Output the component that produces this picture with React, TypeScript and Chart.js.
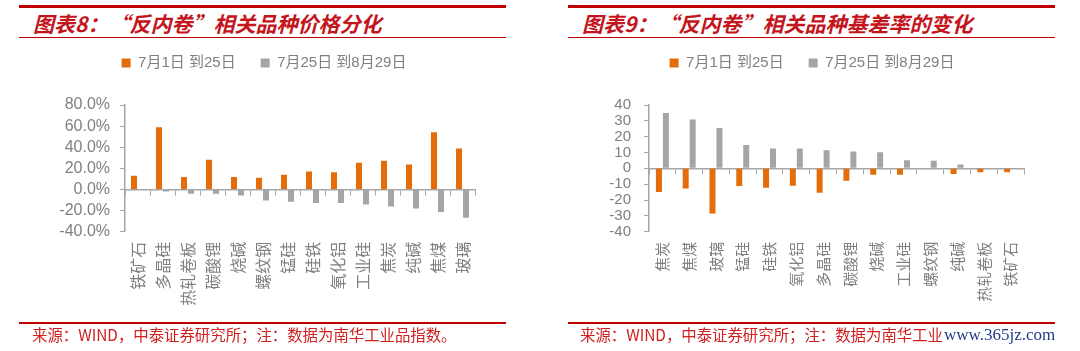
import React, { useEffect, useRef } from 'react';
import { Chart, registerables } from 'chart.js';

Chart.register(...registerables);

// ---------- data ----------
const priceCategories = ['铁矿石', '多晶硅', '热轧卷板', '碳酸锂', '烧碱', '螺纹钢', '锰硅', '硅铁', '氧化铝', '工业硅', '焦炭', '纯碱', '焦煤', '玻璃'];
const priceJul = [13, 59, 11.7, 28.1, 11.7, 11.1, 13.9, 17.1, 16.4, 25.3, 27.2, 23.7, 54.3, 38.9];
const priceAug = [0, -2, -4.1, -4.1, -5.7, -10.4, -11.7, -12.9, -12.9, -14.2, -16.1, -18, -21.4, -26.8];
const priceTicks = { min: -40, max: 80, step: 20 };

const basisCategories = ['焦炭', '焦煤', '玻璃', '锰硅', '硅铁', '氧化铝', '多晶硅', '碳酸锂', '烧碱', '工业硅', '螺纹钢', '纯碱', '热轧卷板', '铁矿石'];
const basisJul = [-15, -12.7, -28.5, -11.2, -12.3, -11, -15.4, -7.8, -4, -4, 0, -3.6, -2.4, -2.5];
const basisAug = [35, 30.9, 25.5, 14.7, 12.6, 12.6, 11.4, 10.7, 10.1, 5.1, 4.8, 2.5, 0, 0];
const basisTicks = { min: -40, max: 40, step: 10 };

const legendLabels = ['7月1日 到25日', '7月25日 到8月29日'];
const titles = ['图表8：“反内卷”相关品种价格分化', '图表9：“反内卷”相关品种基差率的变化'];
const sourceText = '来源：WIND，中泰证券研究所；注：数据为南华工业品指数。';
const watermark = 'www.365jz.com';

// ---------- style ----------
const ORANGE = '#E46C0A';
const GRAY = '#A5A5A5';
const AXIS = '#A6A6A6';
const TICK_COLOR = '#808080';
const RED = '#C00000';
const FONT = '"Liberation Sans", "Noto Sans CJK SC", sans-serif';
const CJK = '"Noto Sans CJK SC", "Liberation Sans", sans-serif';

type ChartProps = {
  categories: string[];
  s1: number[];
  s2: number[];
  ticks: { min: number; max: number; step: number };
  percent: boolean;
  padLeft: number;
  padRight: number;
  yWidth: number;
  yPad: number;
  yFont: number;
  xFont: number;
  catPct: number;
  barPct: number;
};

function BarChart(p: ChartProps) {
  const ref = useRef<HTMLCanvasElement>(null);
  useEffect(() => {
    if (!ref.current) return;
    const chart = new Chart(ref.current, {
      type: 'bar',
      data: {
        labels: p.categories,
        datasets: [
          { label: legendLabels[0], data: p.s1, backgroundColor: ORANGE, categoryPercentage: p.catPct, barPercentage: p.barPct },
          { label: legendLabels[1], data: p.s2, backgroundColor: GRAY, categoryPercentage: p.catPct, barPercentage: p.barPct },
        ],
      },
      options: {
        responsive: false,
        animation: false,
        devicePixelRatio: 1,
        layout: { padding: { top: 30.5, left: p.padLeft, right: p.padRight, bottom: 30 } },
        plugins: {
          legend: {
            display: true,
            position: 'top',
            labels: {
              boxWidth: 9,
              boxHeight: 9,
              padding: 25,
              color: TICK_COLOR,
              font: { size: 15, family: FONT },
            },
          },
          title: {
            display: true,
            text: '',
            weight: 500,
            padding: { top: 24.5, bottom: 0 },
            font: { size: 1, lineHeight: '0px' },
          } as any,
          tooltip: { enabled: false },
        },
        scales: {
          x: {
            type: 'category',
            position: 'bottom',
            offset: true,
            grid: { display: false, drawTicks: false },
            border: { display: false },
            ticks: {
              autoSkip: false,
              minRotation: 90,
              maxRotation: 90,
              padding: 10,
              color: TICK_COLOR,
              font: { size: p.xFont, family: CJK },
            },
            afterFit: (s: any) => {
              s.height = 351 - 30 - 231.7;
            },
          },
          x2: {
            type: 'category',
            axis: 'x',
            position: { y: 0 },
            offset: true,
            grid: { display: true, drawOnChartArea: false, drawTicks: true, tickLength: 5, offset: true, color: AXIS, lineWidth: 1 },
            border: { display: true, color: AXIS, width: 1.5 },
            ticks: { display: false },
          } as any,
          y: {
            min: p.ticks.min,
            max: p.ticks.max,
            grid: { display: true, drawOnChartArea: false, drawTicks: true, tickLength: 5, color: AXIS, lineWidth: 1 },
            border: { display: true, color: AXIS, width: 1.5 },
            ticks: {
              stepSize: p.ticks.step,
              autoSkip: false,
              padding: p.yPad,
              color: TICK_COLOR,
              font: { size: p.yFont, family: FONT, lineHeight: 1 },
              callback: (v: any) => (p.percent ? Number(v).toFixed(1) + '%' : String(v)),
            },
            afterFit: (s: any) => {
              s.width = p.yWidth;
            },
          },
        },
      } as any,
    });
    return () => chart.destroy();
  }, []);
  return (
    <canvas
      ref={ref}
      width={540}
      height={351}
      style={{ position: 'absolute', left: 0, top: 0, width: 540, height: 351 }}
    />
  );
}

type PanelProps = {
  left: number;
  lineX1: number;
  lineX2: number;
  titleX: number;
  title: string;
  footX: number;
  children: React.ReactNode;
  extra?: React.ReactNode;
};

function Panel(p: PanelProps) {
  const lineW = p.lineX2 - p.lineX1;
  return (
    <div style={{ position: 'absolute', left: p.left, top: 0, width: 540, height: 351, overflow: 'visible' }}>
      <div style={{ position: 'absolute', left: p.lineX1, top: 5, width: lineW, height: 3, background: RED }} />
      <div
        style={{
          position: 'absolute',
          left: p.titleX,
          top: 10,
          height: 26,
          lineHeight: '26px',
          fontFamily: CJK,
          fontSize: 21,
          fontWeight: 700,
          fontStyle: 'italic',
          color: '#C4141C',
          whiteSpace: 'nowrap',
        }}
      >
        {p.title}
      </div>
      <div style={{ position: 'absolute', left: p.lineX1, top: 36.5, width: lineW, height: 1.5, background: RED }} />
      {p.children}
      <div style={{ position: 'absolute', left: p.lineX1, top: 322, width: lineW, height: 2, background: RED }} />
      <div
        style={{
          position: 'absolute',
          left: p.footX,
          top: 325,
          height: 18,
          lineHeight: '18px',
          fontFamily: CJK,
          fontSize: 15.4,
          color: '#D02020',
          whiteSpace: 'nowrap',
        }}
      >
        {sourceText}
      </div>
      {p.extra}
    </div>
  );
}

export default function App() {
  return (
    <div style={{ position: 'absolute', left: 0, top: 0, width: 1080, height: 351, background: '#FFFFFF', overflow: 'hidden' }}>
      <Panel left={0} lineX1={19} lineX2={506} titleX={33} title={titles[0]} footX={32}>
        <BarChart
          categories={priceCategories}
          s1={priceJul}
          s2={priceAug}
          ticks={priceTicks}
          percent={true}
          padLeft={53}
          padRight={65}
          yWidth={72}
          yPad={10}
          yFont={16}
          xFont={16}
          catPct={0.56}
          barPct={0.86}
        />
      </Panel>
      <Panel
        left={540}
        lineX1={28}
        lineX2={515}
        titleX={42}
        title={titles[1]}
        footX={40}
        extra={
          <div
            style={{
              position: 'absolute',
              left: 402,
              top: 326,
              height: 18,
              lineHeight: '18px',
              padding: '0 2px',
              background: '#FFFFFF',
              fontFamily: '"Liberation Serif", "DejaVu Serif", serif',
              fontSize: 17,
              color: '#1F3C88',
              whiteSpace: 'nowrap',
            }}
          >
            {watermark}
          </div>
        }
      >
        <BarChart
          categories={basisCategories}
          s1={basisJul}
          s2={basisAug}
          ticks={basisTicks}
          percent={false}
          padLeft={60}
          padRight={56}
          yWidth={49}
          yPad={13}
          yFont={15}
          xFont={15}
          catPct={0.52}
          barPct={0.86}
        />
      </Panel>
    </div>
  );
}
